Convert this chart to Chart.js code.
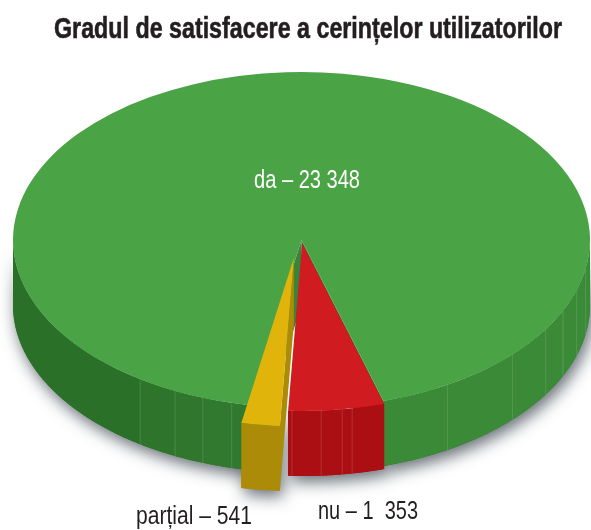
<!DOCTYPE html>
<html>
<head>
<meta charset="utf-8">
<title>Gradul de satisfacere</title>
<script src="https://cdn.jsdelivr.net/npm/chart.js@4"></script>
<style>
html, body { margin: 0; padding: 0; background: #fff; }
canvas { display: block; }
</style>
</head>
<body>
<canvas id="pie" width="591" height="530"></canvas>
<script>
// values
const chartTitle = 'Gradul de satisfacere a cerințelor utilizatorilor';
const categories = ['da', 'nu', 'parțial'];
const values = [23348, 1353, 541];
const valueLabels = ['23 348', '1  353', '541'];

const topColors = ['#4aa345', '#d01b20', '#e1b40b'];
const faceColors = ['#37853a', '#ac0f13', '#ac8b08'];
const explode = [0, 0.018, 0.107]; // share of the radius
const sideShift = [0, 0, -0.014]; // sideways nudge, same unit

// where the flat facets of the side wall meet, degrees from the front (+ = right)
const facetLines = [-34, -26, -20, -14, 30.4, 47, 57.8, 65, 72.5, 80, -2, 3.8, 10, 8];

const centerX = 301.5, centerY = 240, radiusX = 288.5, radiusY = 168, depth = 65;
const RAD = Math.PI / 180;

function wallColor(i, phi) {
    if (i !== 0) return faceColors[i];
    if (phi > 0) return '#3b8a38';
    if (phi < -34) return '#2b7029';
    if (phi < -26) return '#2e742b';
    if (phi < -20) return '#30772d';
    return '#31792e';
}

const pie3d = {
    id: 'pie3d',
    afterDatasetsUpdate(chart) {
        // pull the small slices out along their middle angle
        chart.getDatasetMeta(0).data.forEach((el, i) => {
            const mid = (el.startAngle + el.endAngle) / 2;
            el.x += (Math.cos(mid) * explode[i] + sideShift[i]) * el.outerRadius;
            el.y += Math.sin(mid) * explode[i] * el.outerRadius;
        });
    },
    beforeDatasetsDraw(chart) {
        const ctx = chart.ctx;
        const arcs = chart.getDatasetMeta(0).data;
        const R = arcs[0].outerRadius, sx = radiusX / R, sy = radiusY / R;
        const tx = centerX - arcs[0].x * sx, ty = centerY - arcs[0].y * sy;

        // circle space to screen
        const point = (el, deg, r) => [
            (el.x + Math.cos(deg * RAD) * r) * sx + tx,
            (el.y + Math.sin(deg * RAD) * r) * sy + ty
        ];

        const wallPath = (el, a, b) => {
            ctx.beginPath();
            for (let d = a; d < b; d += 0.5) {
                const p = point(el, d, el.outerRadius);
                ctx.lineTo(p[0], p[1]);
            }
            const pb = point(el, b, el.outerRadius);
            ctx.lineTo(pb[0], pb[1]);
            for (let d = b; d > a; d -= 0.5) {
                const p = point(el, d, el.outerRadius);
                ctx.lineTo(p[0], p[1] + depth);
            }
            const pa = point(el, a, el.outerRadius);
            ctx.lineTo(pa[0], pa[1] + depth);
            ctx.closePath();
        };

        const cutFace = (el, deg, color) => {
            const a = point(el, deg, 0);
            const b = point(el, deg, el.outerRadius);
            ctx.fillStyle = color;
            ctx.beginPath();
            ctx.moveTo(a[0], a[1]);
            ctx.lineTo(b[0], b[1]);
            ctx.lineTo(b[0], b[1] + depth);
            ctx.lineTo(a[0], a[1] + depth);
            ctx.closePath();
            ctx.fill();
        };

        // front facing part of each slice
        const runs = [];
        arcs.forEach((el, i) => {
            const start = el.startAngle / RAD, end = el.endAngle / RAD;
            [-360, 0, 360].forEach(base => {
                const lo = Math.max(start, base), hi = Math.min(end, base + 180);
                if (lo < hi) runs.push({ el, i, lo, hi, base });
            });
        });

        // soft shadow first so it never darkens another wall
        ctx.save();
        ctx.shadowColor = 'rgba(50,60,70,0.75)';
        ctx.shadowBlur = 16;
        ctx.shadowOffsetX = 3;
        ctx.shadowOffsetY = 6;
        runs.forEach(r => {
            ctx.fillStyle = wallColor(r.i, 0);
            wallPath(r.el, r.lo, r.hi);
            ctx.fill();
        });
        ctx.restore();

        arcs.forEach((el, i) => {
            cutFace(el, el.startAngle / RAD, faceColors[i]);
            if (i === 0) cutFace(el, el.endAngle / RAD, faceColors[i]);

            runs.filter(r => r.i === i).forEach(r => {
                const cuts = facetLines
                    .map(phi => 90 - phi + r.base)
                    .filter(d => d > r.lo && d < r.hi)
                    .sort((p, q) => p - q);
                const edges = [r.lo, ...cuts, r.hi];
                for (let k = 0; k < edges.length - 1; k++) {
                    const phi = 90 - ((edges[k] + edges[k + 1]) / 2 - r.base);
                    ctx.fillStyle = wallColor(i, phi);
                    wallPath(el, edges[k], edges[k + 1]);
                    ctx.fill();
                }
                ctx.strokeStyle = 'rgba(255,255,255,0.14)';
                ctx.lineWidth = 1;
                cuts.forEach(d => {
                    const p = point(el, d, el.outerRadius);
                    ctx.beginPath();
                    ctx.moveTo(p[0], p[1]);
                    ctx.lineTo(p[0], p[1] + depth);
                    ctx.stroke();
                });
            });
        });

        // the library draws the tops through this squash
        ctx.save();
        ctx.transform(sx, 0, 0, sy, tx, ty);
    },
    afterDatasetsDraw(chart) {
        chart.ctx.restore();
    },
    afterDraw(chart) {
        const ctx = chart.ctx;
        ctx.save();
        ctx.textAlign = 'center';
        ctx.textBaseline = 'alphabetic';
        // no condensed face is installed, the maxWidth argument narrows the text
        ctx.font = 'bold 29px "Liberation Sans", sans-serif';
        ctx.fillStyle = '#231f20';
        ctx.strokeStyle = '#231f20';
        ctx.lineWidth = 0.6;
        ctx.fillText(chartTitle, 308, 38, 508);
        ctx.strokeText(chartTitle, 308, 38, 508);
        ctx.font = '25px "Liberation Sans", sans-serif';
        ctx.fillText(categories[1] + ' – ' + valueLabels[1], 368, 519, 100);
        ctx.fillText(categories[2] + ' – ' + valueLabels[2], 194, 524, 116);
        ctx.fillStyle = '#ffffff';
        ctx.fillText(categories[0] + ' – ' + valueLabels[0], 307, 188, 106);
        ctx.restore();
    }
};

new Chart(document.getElementById('pie'), {
    type: 'pie',
    data: {
        labels: categories,
        datasets: [{
            data: values,
            backgroundColor: topColors,
            borderWidth: 0,
            hoverOffset: 0
        }]
    },
    options: {
        responsive: false,
        animation: false,
        rotation: 190.5,
        events: [],
        plugins: {
            legend: { display: false },
            tooltip: { enabled: false },
            title: { display: false }
        }
    },
    plugins: [pie3d]
});
</script>
</body>
</html>
